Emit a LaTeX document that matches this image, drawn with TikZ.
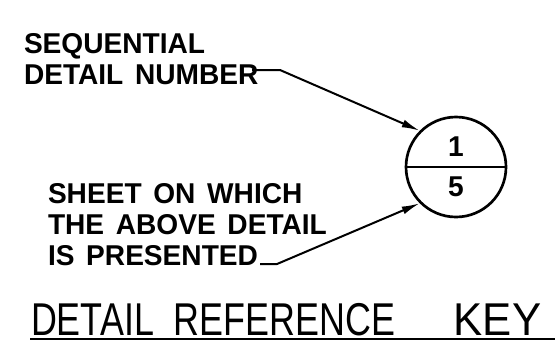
\documentclass[tikz,border=0pt]{standalone}
\usepackage{fontspec}
\usetikzlibrary{arrows.meta}
\newfontfamily\cadfont[FakeStretch=0.98,WordSpace=1.5]{Liberation Sans Bold}
\newfontfamily\cadtitlefont[FakeStretch=0.78,WordSpace=2]{Liberation Sans}
\newfontfamily\cadkeyfont[FakeStretch=0.95]{Liberation Sans}
\tikzset{every picture/.style={line width=1.5pt}}
\tikzset{
  label text/.style={anchor=north west,inner sep=0pt,align=left,font=\cadfont\fontsize{21.5}{23.25}\selectfont},
  leader/.style={line width=1.5pt,-{Latex[length=13.5pt,width=6pt]}},
}

\begin{document}
\begin{tikzpicture}[x=0.75pt,y=0.75pt,yscale=-1,xscale=1]
\useasboundingbox (0,0) rectangle (555,340);

%Shape: Circle [id:key]
\node (key) [draw,circle,line width=2pt,minimum size=75pt,inner sep=0pt] at (456,167) {};
%Straight Lines [id:keymid]
\draw [line width=2pt] (key.west) -- (key.east) ;
% Text Node
\node (detailno) [font=\cadfont\fontsize{21.5}{23.25}\selectfont,inner sep=0pt] at (456,146.5) {1};
% Text Node
\node (sheetno) [font=\cadfont\fontsize{21.5}{23.25}\selectfont,inner sep=0pt] at (456,187) {5};

% Text Node
\node (seq) [label text] at (23,32) {SEQUENTIAL\\DETAIL NUMBER};
% Text Node
\node (sheet) [label text] at (47,182) {SHEET ON WHICH\\THE ABOVE DETAIL\\IS PRESENTED};

%Leader lines
\coordinate (seqtail) at (252,70);
\coordinate (seqbend) at (280,70);
\coordinate (sheettail) at (260,264);
\coordinate (sheetbend) at (277,264);
\draw [leader] (seqtail) -- (seqbend) -- (key.135) ;
\draw [leader] (sheettail) -- (sheetbend) -- (key.225) ;

% Text Node
\node (title) [anchor=base west,inner sep=0pt,font=\cadtitlefont\fontsize{34.5}{36}\selectfont] at (30,335) {DETAIL REFERENCE\hspace{44pt}{\cadkeyfont KEY}};
%Straight Lines [id:underline]
\coordinate (ulstart) at (30,339);
\coordinate (ulend) at (555,339);
\draw [line width=1.5pt] (ulstart) -- (ulend) ;
\end{tikzpicture}
\end{document}
